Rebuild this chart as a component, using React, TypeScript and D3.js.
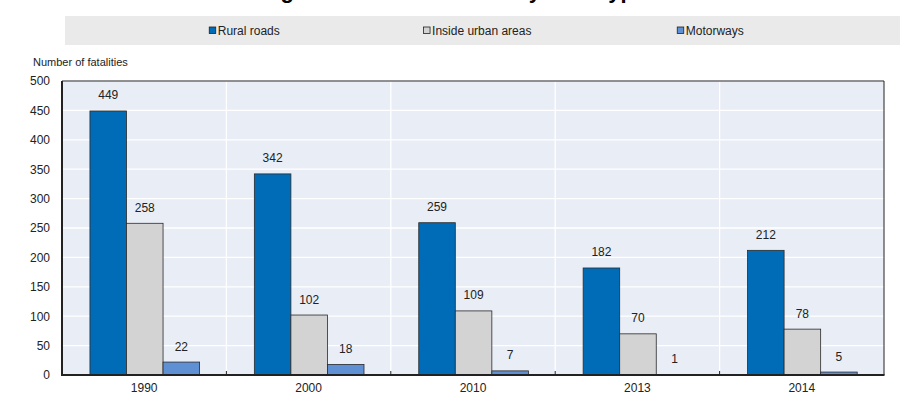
import React from "react";
import * as d3 from "d3";

const years = ["1990", "2000", "2010", "2013", "2014"];
const seriesNames = ["Rural roads", "Inside urban areas", "Motorways"];
const ruralRoads = [449, 342, 259, 182, 212];
const insideUrban = [258, 102, 109, 70, 78];
const motorways = [22, 18, 7, 1, 5];
const yTicks = [0, 50, 100, 150, 200, 250, 300, 350, 400, 450, 500];
const titleText = "Figure 3. Road fatalities by road type";
const yAxisTitle = "Number of fatalities";

const seriesValues = [ruralRoads, insideUrban, motorways];
const seriesColors = ["#006bb6", "#d3d3d3", "#5f90d4"];

const FONT = '"Liberation Sans", Arial, Helvetica, sans-serif';
const W = 907;
const H = 406;
const plotLeft = 62;
const plotRight = 884;
const plotTop = 81;
const plotBottom = 375;

function measure(text: string, size: number): number {
  const c = document.createElement("canvas").getContext("2d");
  if (!c) return text.length * size * 0.5;
  c.font = `${size}px "Liberation Sans", Arial, sans-serif`;
  return c.measureText(text).width;
}

export default function App() {
  const y = d3.scaleLinear().domain([0, 500]).range([plotBottom, plotTop]);
  const x0 = d3.scaleBand<string>().domain(years).range([plotLeft, plotRight]).padding(0);
  const bw = x0.bandwidth();
  const x1 = d3
    .scaleBand<string>()
    .domain(seriesNames)
    .range([bw * 0.17, bw * 0.837])
    .padding(0);

  const legendCenter = d3
    .scalePoint<string>()
    .domain(seriesNames)
    .range([244.5, 710.5]);

  const sq = 7;
  const gap = 1.5;

  return (
    <svg
      width={W}
      height={H}
      style={{ position: "absolute", left: 0, top: 0, background: "#fff" }}
      fontFamily={FONT}
    >
      {/* Title (mostly cut off at top, as in the original) */}
      <text x={261} y={-2.5} fontSize={22} fontWeight="bold" fill="#000">
        {titleText}
      </text>

      {/* Legend box */}
      <rect x={65} y={16} width={835} height={29} fill="#eaeaea" />
      {seriesNames.map((name, i) => {
        const tw = measure(name, 12);
        const total = sq + gap + tw;
        const sx = (legendCenter(name) as number) - total / 2;
        return (
          <g key={name}>
            <rect
              x={sx}
              y={27}
              width={sq - 0.5}
              height={sq - 0.5}
              fill={seriesColors[i]}
              stroke="#222"
              strokeWidth={0.8}
            />
            <text x={sx + sq + gap} y={34.5} fontSize={12} fill="#222">
              {name}
            </text>
          </g>
        );
      })}

      {/* Y axis title */}
      <text x={33} y={66} fontSize={11} fill="#222">
        {yAxisTitle}
      </text>

      {/* Plot background */}
      <rect
        x={plotLeft}
        y={plotTop}
        width={plotRight - plotLeft}
        height={plotBottom - plotTop}
        fill="#e9edf6"
      />
      {/* Horizontal gridlines */}
      {yTicks.map((t) => (
        <line
          key={"g" + t}
          x1={plotLeft}
          x2={plotRight}
          y1={y(t)}
          y2={y(t)}
          stroke="#ffffff"
          strokeWidth={1.3}
        />
      ))}
      {/* Vertical separators */}
      {years.slice(1).map((yr) => (
        <line
          key={"v" + yr}
          x1={x0(yr) as number}
          x2={x0(yr) as number}
          y1={plotTop}
          y2={plotBottom}
          stroke="#ffffff"
          strokeWidth={1.3}
        />
      ))}

      {/* Bars */}
      {years.map((yr, ci) => (
        <g key={yr} transform={`translate(${x0(yr)},0)`}>
          {seriesNames.map((s, si) => {
            const v = seriesValues[si][ci];
            const bx = x1(s) as number;
            const bwid = x1.bandwidth();
            return (
              <g key={s}>
                <rect
                  x={bx}
                  y={y(v)}
                  width={bwid}
                  height={plotBottom - y(v)}
                  fill={seriesColors[si]}
                  stroke="#2a2a2a"
                  strokeWidth={0.8}
                />
                <text
                  x={bx + bwid / 2}
                  y={y(v) - 11.5}
                  fontSize={12}
                  textAnchor="middle"
                  fill="#222"
                >
                  {v}
                </text>
              </g>
            );
          })}
        </g>
      ))}

      {/* Frame */}
      <line x1={plotLeft} x2={plotRight} y1={plotTop} y2={plotTop} stroke="#222" strokeWidth={1} />
      <line x1={plotRight} x2={plotRight} y1={plotTop} y2={plotBottom} stroke="#222" strokeWidth={1} />
      <line x1={plotLeft} x2={plotLeft} y1={plotTop} y2={plotBottom + 1} stroke="#222" strokeWidth={2} />
      <line x1={plotLeft - 1} x2={plotRight + 0.5} y1={plotBottom} y2={plotBottom} stroke="#222" strokeWidth={2} />

      {/* Bottom ticks at category boundaries */}
      {years.slice(1).map((yr) => (
        <line
          key={"t" + yr}
          x1={x0(yr) as number}
          x2={x0(yr) as number}
          y1={plotBottom}
          y2={plotBottom - 4}
          stroke="#222"
          strokeWidth={1}
        />
      ))}

      {/* Y tick labels */}
      {yTicks.map((t) => (
        <text key={"l" + t} x={50} y={y(t) + 4.3} fontSize={12} textAnchor="end" fill="#222">
          {t}
        </text>
      ))}

      {/* X labels */}
      {years.map((yr) => (
        <text
          key={"x" + yr}
          x={(x0(yr) as number) + bw / 2}
          y={392}
          fontSize={12}
          textAnchor="middle"
          fill="#222"
        >
          {yr}
        </text>
      ))}
    </svg>
  );
}
